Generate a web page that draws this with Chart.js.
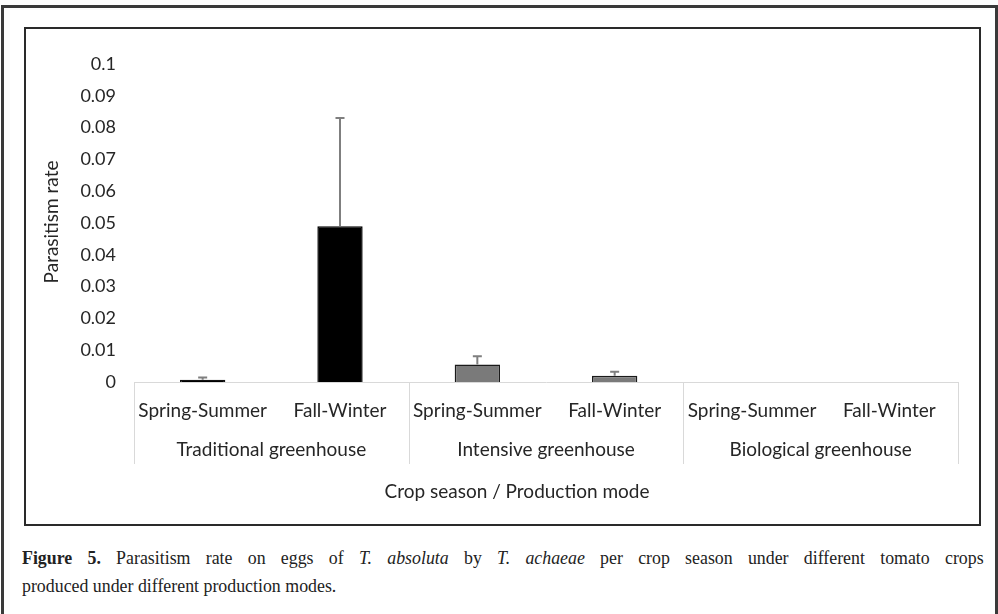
<!DOCTYPE html>
<html>
<head>
<meta charset="utf-8">
<script src="https://cdn.jsdelivr.net/npm/chart.js@4.4.1/dist/chart.umd.min.js"></script>
<style>
  html, body { margin: 0; padding: 0; background: #fff; width: 998px; height: 614px; overflow: hidden; }
  #outer { position: absolute; left: 1px; top: 5px; width: 991px; height: 700px;
           border: 3px solid #3a3a3a; border-bottom: none; }
  #inner { position: absolute; left: 24px; top: 27px; width: 953px; height: 495px;
           border: 2px solid #2a2a2a; background: #fff; }
  #cv { position: absolute; left: 0; top: 0; }
  #caption { position: absolute; left: 22px; top: 544px; width: 1051px;
             transform: scaleX(0.915); transform-origin: 0 0;
             font-family: "Liberation Serif", "Times New Roman", serif; font-size: 19.5px;
             line-height: 28px; color: #222; }
  #caption .l1 { text-align: justify; text-align-last: justify; }
</style>
</head>
<body>
<div id="outer"></div>
<div id="inner"><canvas id="cv" width="953" height="495"></canvas></div>
<div id="caption"><div class="l1"><b>Figure 5.</b> Parasitism rate on eggs of <i>T. absoluta</i> by <i>T. achaeae</i> per crop season under different tomato crops</div><div>produced under different production modes.</div></div>
<script>
// ---- data ----
const seasons = ["Spring-Summer", "Fall-Winter", "Spring-Summer", "Fall-Winter", "Spring-Summer", "Fall-Winter"];
const groups = ["Traditional greenhouse", "Intensive greenhouse", "Biological greenhouse"];
const parasitism = [0.0007, 0.049, 0.0055, 0.002, 0, 0];
const errorUp = [0.0007, 0.034, 0.0026, 0.0012, 0, 0];
const yTicks = [0, 0.01, 0.02, 0.03, 0.04, 0.05, 0.06, 0.07, 0.08, 0.09, 0.1];
const yTitle = "Parasitism rate";
const xTitle = "Crop season / Production mode";

const FONT = "Lato, 'Open Sans', sans-serif";
const TXT = "#262626";

const barFill = ["#000000", "#000000", "#7a7a7a", "#7a7a7a", "#7a7a7a", "#7a7a7a"];
const barBorder = ["#111111", "#000000", "#1a1a1a", "#1a1a1a", "#1a1a1a", "#1a1a1a"];

const extras = {
  id: "extras",
  afterDatasetsDraw(chart) {
    const ctx = chart.ctx;
    const y = chart.scales.y;
    const meta = chart.getDatasetMeta(0);
    ctx.save();
    ctx.strokeStyle = "#7f7f7f";
    ctx.lineWidth = 2;
    parasitism.forEach((v, i) => {
      const e = errorUp[i];
      if (!e) return;
      const px = meta.data[i].x;
      const y0 = y.getPixelForValue(v);
      const y1 = y.getPixelForValue(v + e);
      ctx.beginPath();
      ctx.moveTo(px, y0); ctx.lineTo(px, y1);
      ctx.moveTo(px - 4.5, y1); ctx.lineTo(px + 4.5, y1);
      ctx.stroke();
    });
    ctx.restore();
  },
  afterDraw(chart) {
    const ctx = chart.ctx;
    const area = chart.chartArea;
    const x = chart.scales.x;
    ctx.save();
    ctx.strokeStyle = "#d9d9d9";
    ctx.lineWidth = 1;
    const n = seasons.length;
    const w = (area.right - area.left) / n;
    for (let g = 0; g <= groups.length; g++) {
      const px = Math.round(area.left + g * 2 * w) + 0.5;
      ctx.beginPath();
      ctx.moveTo(px, area.bottom);
      ctx.lineTo(px, area.bottom + 82);
      ctx.stroke();
    }
    ctx.fillStyle = TXT;
    ctx.font = "19px " + FONT;
    ctx.textAlign = "center";
    ctx.textBaseline = "middle";
    groups.forEach((g, i) => {
      const cx = (x.getPixelForValue(2 * i) + x.getPixelForValue(2 * i + 1)) / 2;
      ctx.fillText(g, cx, area.bottom + 68);
    });
    ctx.fillText(xTitle, 491, area.bottom + 110);
    ctx.translate(26, 193);
    ctx.rotate(-Math.PI / 2);
    ctx.fillText(yTitle, 0, 0);
    ctx.restore();
  }
};

new Chart(document.getElementById("cv"), {
  type: "bar",
  data: {
    labels: seasons,
    datasets: [{
      data: parasitism,
      backgroundColor: barFill,
      borderColor: barBorder,
      borderWidth: 1.5,
      barPercentage: 0.33,
      categoryPercentage: 1.0
    }]
  },
  options: {
    responsive: false,
    animation: false,
    devicePixelRatio: 1,
    layout: { padding: { top: 35, right: 21, bottom: 0, left: 0 } },
    plugins: { legend: { display: false }, tooltip: { enabled: false } },
    scales: {
      x: {
        grid: { display: false, drawTicks: false },
        border: { display: true, color: "#d9d9d9", width: 1 },
        ticks: { color: TXT, font: { size: 19, family: FONT }, padding: 17, maxRotation: 0, autoSkip: false },
        afterFit(s) { s.height = 142; }
      },
      y: {
        min: 0, max: 0.1,
        afterBuildTicks(s) { s.ticks = yTicks.map(v => ({ value: v })); },
        grid: { display: false, drawTicks: false },
        border: { display: false },
        ticks: { color: TXT, font: { size: 18, family: FONT }, padding: 18,
                 callback: v => String(Math.round(v * 100) / 100) },
        afterFit(s) { s.width = 108; }
      }
    }
  },
  plugins: [extras]
});
</script>
</body>
</html>
